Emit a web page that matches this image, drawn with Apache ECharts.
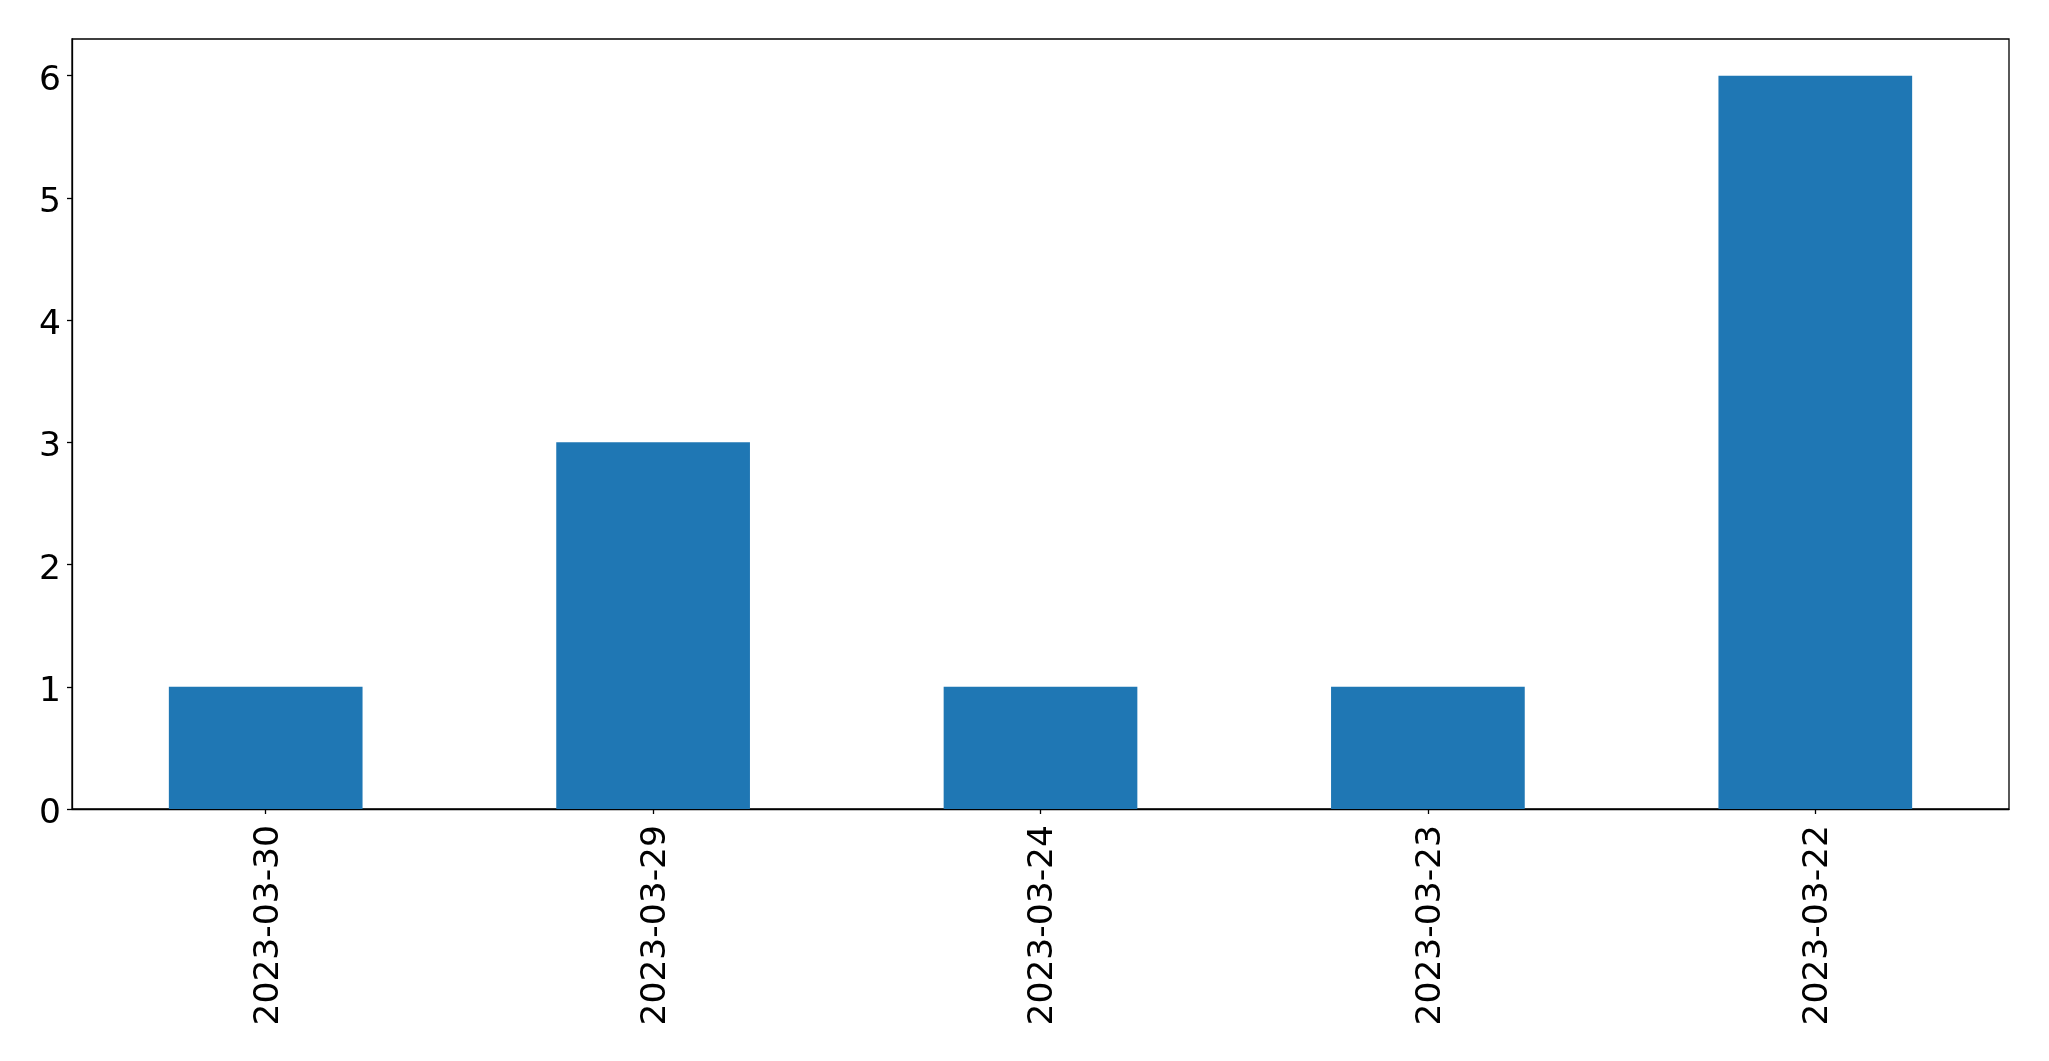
<!DOCTYPE html>
<html>
<head>
<meta charset="utf-8">
<script src="https://cdn.jsdelivr.net/npm/echarts@6/dist/echarts.min.js"></script>
<style>
html,body{margin:0;padding:0;background:#fff;}
#chart{width:2049px;height:1061px;}
</style>
</head>
<body>
<div id="chart"></div>
<script>
const categories = ['2023-03-30', '2023-03-29', '2023-03-24', '2023-03-23', '2023-03-22'];
const values = [1, 3, 1, 1, 6];
const yTicks = [0, 1, 2, 3, 4, 5, 6];

const chart = echarts.init(document.getElementById('chart'), null, {renderer: 'canvas'});
const font = '"DejaVu Sans", sans-serif';
chart.setOption({
  animation: false,
  backgroundColor: '#ffffff',
  grid: {
    left: 72, top: 39, right: 40, bottom: 252,
    show: true, borderColor: '#000', borderWidth: 1.3, backgroundColor: 'transparent'
  },
  xAxis: {
    type: 'category',
    data: categories,
    boundaryGap: true,
    axisLine: {show: true, lineStyle: {color: '#000', width: 1.3}},
    axisTick: {show: true, alignWithLabel: true, length: 5, lineStyle: {color: '#000', width: 1.3}},
    axisLabel: {rotate: 90, margin: 16, color: '#000', fontSize: 34.5, fontFamily: font, interval: 0, verticalAlign: 'top', lineHeight: 6},
    splitLine: {show: false}
  },
  yAxis: {
    type: 'value',
    min: 0, max: 6.3, interval: 1,
    axisLine: {show: true, lineStyle: {color: '#000', width: 1.3}},
    axisTick: {show: true, length: 5, customValues: yTicks, lineStyle: {color: '#000', width: 1.3}},
    axisLabel: {margin: 11, color: '#000', fontSize: 34.5, fontFamily: font, customValues: yTicks, verticalAlign: 'top', lineHeight: 10},
    splitLine: {show: false}
  },
  series: [{
    type: 'bar',
    data: values,
    barWidth: '50%',
    itemStyle: {color: '#1f77b4'}
  }]
});
</script>
</body>
</html>
